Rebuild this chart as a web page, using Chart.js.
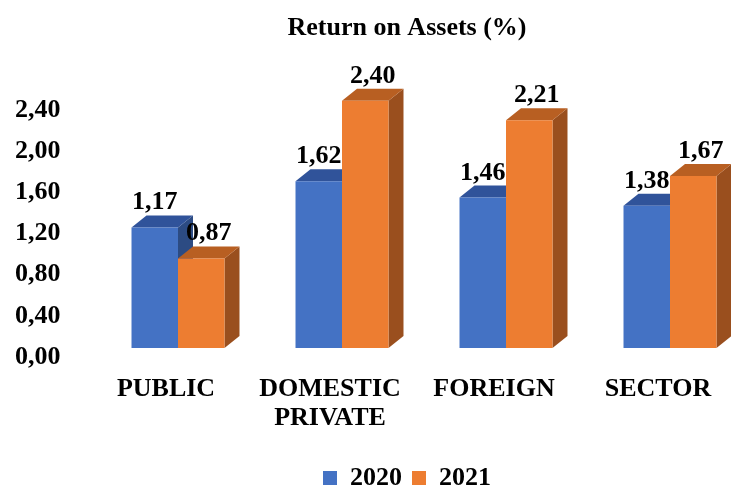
<!DOCTYPE html>
<html>
<head>
<meta charset="utf-8">
<script src="https://cdn.jsdelivr.net/npm/chart.js@4.4.1/dist/chart.umd.min.js"></script>
<style>
  html, body { margin: 0; padding: 0; background: #fff; overflow: hidden; }
  /* a bit wider/taller than the window so title + legend centre over the bars */
  #wrap { width: 799px; height: 501px; }
</style>
</head>
<body>
<div id="wrap"><canvas id="roa"></canvas></div>
<script>
const categories = ["PUBLIC", ["DOMESTIC", "PRIVATE"], "FOREIGN", "SECTOR"];
const values2020 = [1.17, 1.62, 1.46, 1.38];
const values2021 = [0.87, 2.40, 2.21, 1.67];
const yTicksShown = [0, 0.4, 0.8, 1.2, 1.6, 2.0, 2.4];

// face colours: front, top, side
const blueFaces = ["#4472C4", "#30539A", "#2C4B83"];
const orangeFaces = ["#ED7D31", "#B85F22", "#9A4F1E"];

const DX = 15, DY = 12;
const serif = "'Liberation Serif', 'Times New Roman', serif";

Chart.defaults.font.family = serif;
Chart.defaults.font.weight = "bold";
Chart.defaults.font.size = 26;
Chart.defaults.color = "#000";

const fmt = (v) => v.toFixed(2).replace(".", ",");

// draws the depth (top + side faces) behind the front faces chart.js draws
const bars3d = {
  id: "bars3d",
  beforeDatasetsDraw(chart) {
    const ctx = chart.ctx;
    chart.data.datasets.forEach((ds, di) => {
      const meta = chart.getDatasetMeta(di);
      meta.data.forEach((bar) => {
        const { x, y, base, width } = bar.getProps(["x", "y", "base", "width"], true);
        const l = x - width / 2, r = x + width / 2;
        ctx.save();
        ctx.fillStyle = ds.faces[2];
        ctx.beginPath();
        ctx.moveTo(r, y);
        ctx.lineTo(r + DX, y - DY);
        ctx.lineTo(r + DX, base - DY);
        ctx.lineTo(r, base);
        ctx.closePath();
        ctx.fill();
        ctx.fillStyle = ds.faces[1];
        ctx.beginPath();
        ctx.moveTo(l, y);
        ctx.lineTo(l + DX, y - DY);
        ctx.lineTo(r + DX, y - DY);
        ctx.lineTo(r, y);
        ctx.closePath();
        ctx.fill();
        ctx.restore();
      });
    });
  },
  afterDatasetsDraw(chart) {
    const ctx = chart.ctx;
    ctx.save();
    ctx.font = "bold 26px " + serif;
    ctx.fillStyle = "#000";
    ctx.textAlign = "center";
    ctx.textBaseline = "alphabetic";
    chart.data.datasets.forEach((ds, di) => {
      const meta = chart.getDatasetMeta(di);
      meta.data.forEach((bar, i) => {
        const { x, y } = bar.getProps(["x", "y"], true);
        const cx = di === 0 ? x : x + DX / 2;
        ctx.fillText(fmt(ds.data[i]), cx, y - DY - 6);
      });
    });
    ctx.restore();
  }
};

new Chart(document.getElementById("roa"), {
  type: "bar",
  data: {
    labels: categories,
    datasets: [
      { label: "2020", data: values2020, backgroundColor: blueFaces[0], faces: blueFaces, clip: false },
      { label: "2021", data: values2021, backgroundColor: orangeFaces[0], faces: orangeFaces, clip: false }
    ]
  },
  options: {
    responsive: true,
    maintainAspectRatio: false,
    animation: false,
    categoryPercentage: 0.567,
    barPercentage: 1.0,
    layout: { padding: { left: 15, right: 0, top: 0, bottom: 0 } },
    plugins: {
      title: {
        display: true,
        text: "Return on Assets (%)",
        font: { size: 26, weight: "bold" },
        padding: { top: 13, bottom: 15.4 }
      },
      legend: {
        position: "bottom",
        labels: { boxWidth: 14, boxHeight: 14, padding: 10, font: { size: 26, weight: "bold" } }
      },
      tooltip: { enabled: false }
    },
    scales: {
      x: {
        offset: false,
        grid: { display: false, drawTicks: false },
        border: { display: false },
        ticks: { padding: 27, labelOffset: -12, maxRotation: 0, autoSkip: false, font: { size: 26, lineHeight: 1.12 } },
        afterFit(s) { s.height = 107; }
      },
      y: {
        min: 0,
        max: 2.8,
        grid: { display: false, drawTicks: false },
        border: { display: false },
        afterFit(s) { s.width = 163; },
        afterBuildTicks(s) { s.ticks = yTicksShown.map((v) => ({ value: v })); },
        ticks: {
          crossAlign: "far",
          padding: 3,
          labelOffset: 9,
          font: { size: 26 },
          callback: (v) => fmt(v)
        }
      },
      yRight: {
        type: "linear",
        position: "right",
        axis: "y",
        grid: { display: false, drawTicks: false },
        border: { display: false },
        ticks: { display: false },
        afterFit(s) { s.width = 129; }
      }
    }
  },
  plugins: [bars3d]
});
</script>
</body>
</html>
